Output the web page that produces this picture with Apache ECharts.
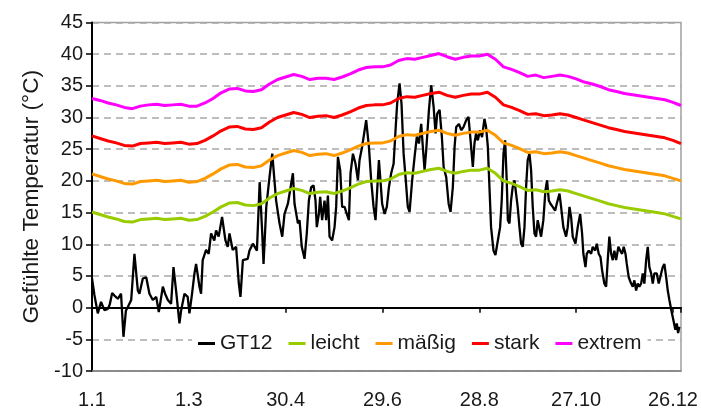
<!DOCTYPE html>
<html><head><meta charset="utf-8">
<script src="https://cdn.jsdelivr.net/npm/echarts@6/dist/echarts.min.js"></script>
<style>html,body{margin:0;padding:0;background:#fff}#c{width:701px;height:410px}</style>
</head><body><div id="c"></div>
<script>
const xTickLabels = ['1.1', '1.3', '30.4', '29.6', '28.8', '27.10', '26.12'];
const seriesNames = ['GT12', 'leicht', 'mäßig', 'stark', 'extrem'];

const thrDays = [0,5,10,15,20,25,30,35,40,45,50,55,60,65,70,75,80,85,90,95,100,105,110,115,120,125,130,135,140,145,150,155,160,165,170,175,180,185,190,195,200,205,210,215,220,225,230,235,240,245,250,255,260,265,270,275,280,285,290,295,300,305,310,315,320,325,330,335,340,345,350,355,360,365];

const extrem = [33.0,32.7,32.3,32.0,31.6,31.4,31.8,32.0,32.1,31.9,32.0,32.1,31.8,31.8,32.3,
33.0,33.9,34.5,34.6,34.2,34.1,34.4,35.3,36.0,36.4,36.8,36.5,36.0,36.2,36.2,
36.0,36.4,36.9,37.5,37.9,38.0,38.0,38.3,39.0,39.3,39.2,39.5,39.8,40.1,39.6,
39.2,39.5,39.7,39.7,40.0,39.2,38.0,37.6,37.1,36.5,36.7,36.3,36.5,36.7,36.5,
36.1,35.6,35.3,34.9,34.4,34.1,33.8,33.6,33.4,33.2,33.0,32.8,32.4,31.9];

const stark = [27.1,26.7,26.3,26.0,25.6,25.5,25.9,26.0,26.1,25.9,26.0,26.1,25.8,25.9,26.4,
27.1,27.9,28.5,28.6,28.2,28.1,28.4,29.3,30.0,30.4,30.8,30.5,30.0,30.2,30.3,
30.0,30.4,30.9,31.5,31.9,32.0,32.0,32.3,33.0,33.3,33.2,33.5,33.8,34.0,33.5,
33.2,33.5,33.7,33.7,34.0,33.2,32.0,31.6,31.1,30.5,30.6,30.3,30.4,30.6,30.4,
30.0,29.6,29.2,28.8,28.4,28.1,27.8,27.6,27.4,27.2,27.0,26.8,26.4,25.9];

const maessig = [21.1,20.7,20.3,20.0,19.6,19.5,19.9,20.0,20.1,19.9,20.0,20.1,19.8,19.9,20.4,
21.1,21.9,22.5,22.6,22.2,22.1,22.4,23.3,24.0,24.4,24.8,24.5,24.0,24.2,24.3,
24.0,24.4,24.9,25.5,25.9,26.0,26.0,26.3,27.0,27.3,27.2,27.5,27.8,28.0,27.5,
27.2,27.5,27.7,27.7,28.0,27.2,26.0,25.6,25.1,24.5,24.6,24.3,24.4,24.6,24.4,
24.0,23.6,23.2,22.8,22.4,22.1,21.8,21.6,21.4,21.2,21.0,20.8,20.4,20.0];

const leicht = [15.1,14.7,14.3,14.0,13.6,13.5,13.9,14.0,14.1,13.9,14.0,14.1,13.8,13.9,14.4,
15.1,15.9,16.5,16.6,16.2,16.1,16.4,17.3,18.0,18.4,18.8,18.5,18.0,18.2,18.3,
18.0,18.4,18.9,19.5,19.9,20.0,20.0,20.3,21.0,21.3,21.2,21.5,21.8,22.0,21.5,
21.2,21.5,21.7,21.7,22.0,21.2,20.0,19.6,19.1,18.5,18.6,18.3,18.4,18.6,18.4,
18.0,17.6,17.2,16.8,16.4,16.1,15.8,15.6,15.4,15.2,15.0,14.8,14.4,14.0];

// GT12: [day of year, value]
const gt12 = [[0,4.6],[1.5,2],[3.6,-0.9],[5.6,0.9],[7.7,-0.4],[9.8,-0.2],[11,0.5],[12.5,2.3],[13.9,1.9],[16,1.4],[18,2.2],[19.5,-4.6],[21,-0.5],[22.2,0.1],[24.3,1.2],[26.3,8.5],[28.4,2.7],[29.4,2.2],[31.5,4.6],[33.6,4.8],[35.6,2.2],[37.7,1.2],[39.8,1.7],[41.4,-0.7],[43.9,3.3],[45.3,2.2],[47,1.2],[49,0.6],[50.5,6.4],[52.1,2.7],[54.2,-2.5],[55.2,-0.5],[57.3,2.2],[59.3,1.7],[60.4,-0.9],[62,2.2],[63.5,5.4],[64.5,6.9],[66.6,3.3],[67.6,2.2],[68.6,7.5],[70.7,9.1],[72.3,8.5],[73.8,11.7],[75.8,10.6],[76.9,12.2],[78.5,11.2],[80.6,14.3],[82.7,10.6],[84.1,9.6],[85.2,11.7],[87.2,9.1],[89.3,9.6],[91,3.8],[92,1.7],
[93.5,7.5],[96.5,7.7],[97.6,9],[99.7,10.1],[102.2,9],[103.9,19.8],[105.5,11.7],[106.3,6.9],[108,15.9],[110,20.6],[111.7,24.3],
[114.1,16.9],[116.2,13.3],[117.9,11.2],[119.3,14.8],[121.4,16.4],[124.5,21.2],[125.5,16.4],[127.6,13.3],[128.6,13.8],[130,9.6],[131.7,7.7],[133.1,11.7],[134.4,16.9],[135.8,19],[137.3,19.3],[138.5,16.9],[139.3,12.7],[140.6,14.8],[141.4,17.5],[142.6,13.8],[144.1,16.9],[145.1,13.8],[146.2,17.7],[147.2,11.2],[148.8,10.6],[150.3,12.7],[151.3,15.9],[152.4,23.8],[153.8,21.7],[155,15.9],[156.5,15.9],[157.9,14.8],[159.2,13.8],[160.2,21.2],[161.7,24.3],[163.3,22.7],[164.8,20.1],[165.8,23.3],[167.4,25.4],[169.9,29.6],[171.6,25.4],[173,20.1],[174.5,15.9],[175.7,13.8],[176.5,17.5],[177.8,23.3],[178.6,20.6],[179.8,16.4],[181.3,14.8],[182.7,15.9],[184,19],[185.4,21.2],[186.9,22.7],[188.1,28],[189.1,32.2],[190.6,35.4],[191.8,32.2],[193.1,24.3],[194.3,20.6],[195.7,15.9],[196.8,15.1],[198.4,20.1],[199.9,23.8],[201.3,27],[202.6,25.9],[204,29],[205,25.4],[206.1,21.7],[207.1,24.8],[208.8,31.2],[210.2,35.1],[211.7,31.7],[212.9,27.5],[213.9,30.6],[215.4,31.2],[216.8,27],[217.9,22.2],[219.5,20.6],[221,16.4],[222.2,15.1],[223.6,19],[224.7,25.4],[225.7,28.5],[227.4,29],[228.8,28],[230.2,28.5],[231.9,29.6],[233.3,30.1],
[234.6,26.4],[236,22.2],[237,25.9],[238,27.5],[239.1,26.4],[240.5,28],[241.7,26.9],[243.2,29.8],[244.2,28.5],[245.3,25.4],[246.3,19],[247.3,12.7],[248.8,9],[250,8.3],[251.5,10.6],[252.9,12.7],[253.9,16.9],[255,24.3],[256,26.4],[257,20.1],[257.7,13.8],[258.7,13.3],[259.7,16.9],[260.7,19],[261.8,20.1],[262.8,18],[263.8,15.9],[264.9,12.7],[265.9,10.1],[266.9,9.6],[268,12.7],[269,19],[270,23.3],[271.1,24.3],[272.1,21.7],[273.1,16],[274.2,11.7],[275.2,11.2],[276.2,13.8],[277.3,13.8],[278.3,11.2],[279.7,13.8],[281,18.5],[282,20.1],[283.1,16.9],[284.1,16.4],[285.5,15.9],[287,15.3],[288,16.4],[289.7,18],[290.7,15.9],[292.1,12.7],[293.8,11.2],[294.8,12.7],[295.9,15.9],[296.9,14.3],[297.9,11.2],[299.6,10.1],[301,12.7],[302.5,14.8],[303.7,11.7],[304.5,8.5],[305.8,6.4],[306.6,8.5],[307.8,9],[309.3,8.5],[310.3,9.6],[311.8,9],[312.8,10.1],[314,8.5],[315.1,8],[316.1,5.9],[317.5,3.8],[318.6,3.3],[319.6,7.5],[320.6,11.2],[321.7,8.5],[322.7,7.5],[323.7,9],[324.8,7.5],[326.2,9.6],[327.3,9],[328.5,8.5],[329.5,9.6],[330.6,8.5],[331.4,6.9],[332.6,4.8],[334.1,3.8],[335.1,3.3],[336.1,4.3],[337.2,2.7],[338.2,3.8],[339.2,3.3],[340.3,3.8],[341.3,5.4],[342.3,3.8],[343.4,7.5],[344.4,9.6],[345.4,6.4],[346.5,5.4],[347.5,3.8],[348.5,5.4],[350,5.4],[351.2,3.8],[352.7,5.4],[353.7,6.4],[354.7,6.9],[355.8,4.8],[356.8,2.7],[357.8,1.2],[359,-0.4],[360.3,-2],[361.5,-3.5],[362.4,-2.5],[363.2,-4],[364,-3]];

const font = '"Liberation Sans", Arial, sans-serif';
const txt = '#1a1a1a';
function pairs(days, vals) { return days.map((d, i) => [d, vals[i]]); }
function thrSeries(name, vals, color) {
  return { name: name, type: 'line', data: pairs(thrDays, vals), symbol: 'none', smooth: false,
           lineStyle: { color: color, width: 3 }, itemStyle: { color: color }, xAxisIndex: 0, yAxisIndex: 0 };
}

const chart = echarts.init(document.getElementById('c'), null, { renderer: 'canvas' });
chart.setOption({
  animation: false,
  textStyle: { fontFamily: font },
  grid: { left: 92, right: 20, top: 22.5, bottom: 38.5, show: true, borderColor: '#a0a0a0', borderWidth: 1.5, backgroundColor: '#fff' },
  legend: {
    left: 192, top: 331, orient: 'horizontal', backgroundColor: '#fff', padding: [2, 6],
    itemGap: 16, itemWidth: 17, itemHeight: 3, icon: 'rect',
    textStyle: { fontSize: 21, color: txt, fontFamily: font },
    data: seriesNames
  },
  xAxis: [
    { type: 'value', min: 0, max: 365, interval: 60, position: 'bottom',
      axisLine: { show: true, onZero: false, lineStyle: { color: '#808080', width: 1.5 } },
      axisTick: { show: false }, splitLine: { show: false },
      axisLabel: { fontSize: 20, color: txt, margin: 19, showMaxLabel: false, fontFamily: font,
        formatter: v => (v % 60 === 0 && xTickLabels[v / 60] !== undefined) ? xTickLabels[v / 60] : '' } },
    { type: 'value', min: 0, max: 365, interval: 60, position: 'bottom',
      axisLine: { show: true, onZero: true, onZeroAxisIndex: 0, lineStyle: { color: '#000', width: 2 } },
      axisTick: { show: true, length: 5, lineStyle: { color: '#000', width: 1.5 } },
      axisLabel: { show: false }, splitLine: { show: false } }
  ],
  yAxis: {
    type: 'value', min: -10, max: 45, interval: 5,
    name: 'Gefühlte Temperatur (°C)', nameLocation: 'middle', nameGap: 49, nameRotate: 90,
    nameTextStyle: { fontSize: 22.7, color: txt, fontFamily: font },
    axisLine: { show: true, lineStyle: { color: '#000', width: 2 } },
    axisTick: { show: true, length: 6, lineStyle: { color: '#000', width: 1.5 } },
    axisLabel: { fontSize: 20, color: txt, margin: 9, fontFamily: font },
    splitLine: { show: true, lineStyle: { color: '#a8a8a8', width: 1.5, type: [7, 5] } }
  },
  series: [
    { name: 'GT12', type: 'line', data: gt12, symbol: 'none', smooth: false,
      lineStyle: { color: '#000', width: 2.3 }, itemStyle: { color: '#000' }, xAxisIndex: 0, yAxisIndex: 0 },
    thrSeries('leicht', leicht, '#99cc00'),
    thrSeries('mäßig', maessig, '#ff9900'),
    thrSeries('stark', stark, '#ff0000'),
    thrSeries('extrem', extrem, '#ff00ff')
  ]
});
</script>
</body></html>
